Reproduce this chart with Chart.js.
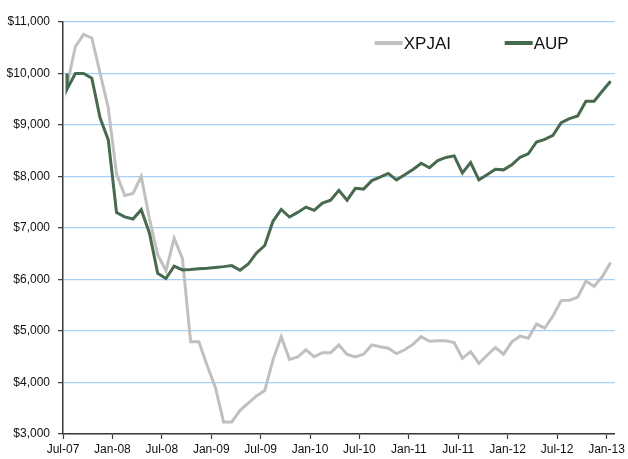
<!DOCTYPE html>
<html>
<head>
<meta charset="utf-8">
<script src="https://cdn.jsdelivr.net/npm/chart.js@4.4.1/dist/chart.umd.min.js"></script>
<style>
  html, body { margin: 0; padding: 0; background: #fff; }
  #chart { display: block; }
</style>
</head>
<body>
<canvas id="chart" width="628" height="459"></canvas>
<script>
(function () {
  "use strict";

  // tick labels, one every 6 months starting Jul-07
  const tickLabels = ["Jul-07", "Jan-08", "Jul-08", "Jan-09", "Jul-09", "Jan-10",
    "Jul-10", "Jan-11", "Jul-11", "Jan-12", "Jul-12", "Jan-13"];

  const seriesNames = ["XPJAI", "AUP"];

  // both indices start from a base of $10,000
  const startValue = 10000;

  // monthly values, Jul-07 .. Jan-13
  const xpjai = [9780, 10520, 10760, 10690, 10010, 9330, 8050, 7630, 7670, 8000,
    7180, 6480, 6170, 6800, 6410, 4790, 4790, 4330, 3910, 3235,
    3235, 3460, 3600, 3740, 3845, 4440, 4890, 4450, 4495, 4635,
    4500, 4580, 4580, 4730, 4545, 4495, 4550, 4730, 4695, 4665,
    4560, 4635, 4740, 4890, 4800, 4812, 4812, 4775, 4470, 4600,
    4370, 4530, 4680, 4550, 4790, 4900, 4860, 5135, 5055, 5290,
    5590, 5595, 5658, 5970, 5870, 6058, 6330];

  const aup = [9700, 10000, 10000, 9910, 9140, 8710, 7300, 7215, 7175, 7355,
    6900, 6120, 6020, 6260, 6185, 6195, 6210, 6220, 6235, 6250,
    6270, 6180, 6300, 6516, 6660, 7130, 7360, 7213, 7303, 7406,
    7342, 7484, 7540, 7730, 7540, 7770, 7755, 7920, 7987, 8060,
    7935, 8032, 8135, 8258, 8170, 8310, 8370, 8400, 8070, 8271,
    7935, 8032, 8142, 8129, 8226, 8374, 8439, 8670, 8720, 8800,
    9045, 9125, 9175, 9460, 9460, 9660, 9850];

  const yTicks = [3000, 4000, 5000, 6000, 7000, 8000, 9000, 10000, 11000];

  const COLORS = {
    xpjai: "#c0c0c0",
    aup: "#476a4f",
    grid: "#a6d1f7",
    axis: "#3a3a3a",
    text: "#111",
  };

  const FONT = "'Liberation Sans Narrow', 'Arial Narrow', 'Liberation Sans', Arial, sans-serif";

  // month i is plotted at the middle of its slot on the x axis
  function toPoints(values) {
    const pts = [{ x: 0.5, y: startValue }];
    values.forEach((v, i) => pts.push({ x: i + 0.5, y: v }));
    return pts;
  }

  const legendInside = {
    id: "legendInside",
    afterDraw(chart) {
      const { ctx, chartArea } = chart;
      const lineLen = 28;
      const itemW = 130;
      const y = chartArea.top + 21;
      let x = chartArea.right - 240;
      ctx.save();
      ctx.font = "17px " + FONT;
      ctx.textBaseline = "middle";
      ctx.textAlign = "left";
      chart.data.datasets.forEach((ds) => {
        ctx.strokeStyle = ds.borderColor;
        ctx.lineWidth = 4;
        ctx.beginPath();
        ctx.moveTo(x, y);
        ctx.lineTo(x + lineLen, y);
        ctx.stroke();
        ctx.fillStyle = COLORS.text;
        ctx.fillText(ds.label, x + lineLen + 1, y + 1);
        x += itemW;
      });
      ctx.restore();
    },
  };

  new Chart(document.getElementById("chart"), {
    type: "line",
    data: {
      datasets: [
        {
          label: seriesNames[0],
          data: toPoints(xpjai),
          borderColor: COLORS.xpjai,
          borderWidth: 3,
          pointRadius: 0,
          tension: 0,
          order: 1,
        },
        {
          label: seriesNames[1],
          data: toPoints(aup),
          borderColor: COLORS.aup,
          borderWidth: 3,
          pointRadius: 0,
          tension: 0,
          order: 0,
        },
      ],
    },
    options: {
      responsive: false,
      devicePixelRatio: 1,
      animation: false,
      layout: { padding: { top: 22, right: 11, bottom: 0, left: 0 } },
      plugins: {
        legend: { display: false },
        tooltip: { enabled: false },
      },
      scales: {
        x: {
          type: "linear",
          min: 0,
          max: tickLabels.length * 6 - 5,
          afterBuildTicks(scale) {
            scale.ticks = tickLabels.map((_, i) => ({ value: i * 6 }));
          },
          afterFit(scale) { scale.height = 25; },
          ticks: {
            autoSkip: false,
            maxRotation: 0,
            padding: 3,
            color: COLORS.text,
            font: { family: FONT, size: 12 },
            callback: (v) => tickLabels[v / 6],
          },
          grid: {
            drawOnChartArea: false,
            drawTicks: true,
            tickLength: 5,
            tickColor: COLORS.axis,
            tickWidth: 1.2,
          },
          border: { color: COLORS.axis, width: 1.5 },
        },
        y: {
          min: yTicks[0],
          max: yTicks[yTicks.length - 1],
          afterBuildTicks(scale) {
            scale.ticks = yTicks.map((v) => ({ value: v }));
          },
          afterFit(scale) { scale.width = 63; },
          ticks: {
            padding: 8,
            color: COLORS.text,
            font: { family: FONT, size: 12 },
            callback: (v) => "$" + v.toLocaleString("en-US"),
          },
          grid: {
            color: COLORS.grid,
            lineWidth: 1.3,
            drawTicks: true,
            tickLength: 5,
            tickColor: COLORS.axis,
            tickWidth: 1.2,
          },
          border: { color: COLORS.axis, width: 1.5 },
        },
      },
    },
    plugins: [legendInside],
  });
})();
</script>
</body>
</html>
